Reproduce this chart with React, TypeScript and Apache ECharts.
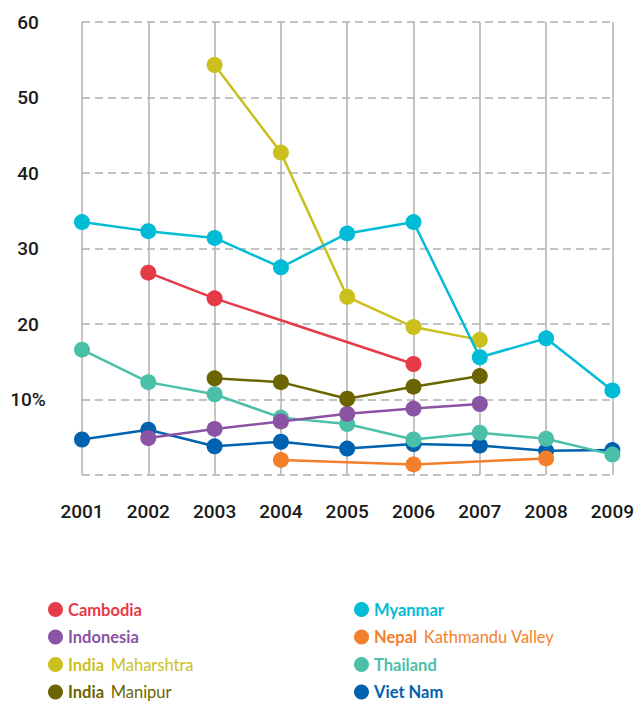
import React, { useEffect, useRef } from "react";
import * as echarts from "echarts";

const years = ["2001", "2002", "2003", "2004", "2005", "2006", "2007", "2008", "2009"];
const yTicks = [0, 10, 20, 30, 40, 50, 60];

const cambodia = [null, 26.8, 23.4, null, null, 14.7, null, null, null];
const indonesia = [null, 4.9, 6.1, 7.1, 8.1, 8.8, 9.4, null, null];
const indiaMaharashtra = [null, null, 54.3, 42.7, 23.6, 19.6, 17.9, null, null];
const indiaManipur = [null, null, 12.8, 12.3, 10.1, 11.7, 13.1, null, null];
const myanmar = [33.5, 32.3, 31.4, 27.5, 32.0, 33.5, 15.6, 18.1, 11.2];
const nepal = [null, null, null, 2.0, null, 1.4, null, 2.2, null];
const thailand = [16.6, 12.3, 10.7, 7.6, 6.75, 4.7, 5.6, 4.8, 2.7];
const vietNam = [4.7, 6.0, 3.8, 4.4, 3.5, 4.1, 3.9, 3.2, 3.3];

const seriesNames = [
  "Cambodia",
  "Indonesia",
  "India Maharshtra",
  "India Manipur",
  "Myanmar",
  "Nepal Kathmandu Valley",
  "Thailand",
  "Viet Nam",
];
const boldParts = ["Cambodia", "Indonesia", "India", "India", "Myanmar", "Nepal", "Thailand", "Viet Nam"];
const subParts = ["", "", "Maharshtra", "Manipur", "", "Kathmandu Valley", "", ""];
const seriesData = [cambodia, indonesia, indiaMaharashtra, indiaManipur, myanmar, nepal, thailand, vietNam];
const colors = ["#e63a47", "#8b53a4", "#cbbf1d", "#6b6400", "#00bcd6", "#f47f2a", "#4cbfa8", "#0061ae"];
const drawOrder = [7, 5, 6, 1, 3, 0, 2, 4];

const axisFont = "Roboto, sans-serif";

export default function App() {
  const ref = useRef<HTMLDivElement>(null);
  useEffect(() => {
    document.body.style.margin = "0";
    if (!ref.current) return;
    const chart = echarts.init(ref.current, null, { renderer: "svg" });
    const rich: Record<string, any> = {};
    seriesNames.forEach((_, i) => {
      rich["b" + i] = { color: colors[i], fontWeight: "bold", fontSize: 16.5, lineHeight: 18, fontFamily: "Lato" };
      rich["r" + i] = { color: colors[i], fontWeight: "normal", fontSize: 16.5, lineHeight: 18, fontFamily: "Lato" };
    });
    const fmt = (name: string) => {
      const i = seriesNames.indexOf(name);
      return subParts[i] ? `{b${i}|${boldParts[i]}}  {r${i}|${subParts[i]}}` : `{b${i}|${boldParts[i]}}`;
    };
    const legendCommon = {
      orient: "vertical",
      icon: "circle",
      itemWidth: 15,
      itemHeight: 15,
      itemGap: 10.5,
      padding: 0,
      selectedMode: false,
      formatter: fmt,
      textStyle: { rich },
      top: 601,
      height: 120,
    };
    chart.setOption({
      animation: false,
      grid: { left: 82, right: 20, top: 22, bottom: 230 },
      legend: [
        { ...legendCommon, left: 48, data: seriesNames.slice(0, 4) },
        { ...legendCommon, left: 354, data: seriesNames.slice(4) },
      ],
      xAxis: {
        type: "category",
        data: years,
        boundaryGap: false,
        axisLine: { show: false },
        axisTick: { show: false },
        axisLabel: {
          margin: 27,
          fontSize: 19,
          fontWeight: 500,
          color: "#1a1a1a",
          fontFamily: axisFont,
        },
        splitLine: { show: true, lineStyle: { color: "#b0b0b0", width: 1.5 } },
      },
      yAxis: {
        type: "value",
        min: 0,
        max: 60,
        interval: 10,
        axisLine: { show: false },
        axisTick: { show: false },
        axisLabel: {
          margin: 54,
          align: "center",
          fontSize: 19,
          fontWeight: 500,
          color: "#1a1a1a",
          fontFamily: axisFont,
          formatter: (v: number) => (v === yTicks[0] ? "" : v === yTicks[1] ? "10%" : String(v)),
        },
        splitLine: { show: true, lineStyle: { color: "#b0b0b0", width: 1.5, type: [8, 5] } },
      },
      series: drawOrder.map((i, k) => ({
        name: seriesNames[i],
        type: "line",
        data: seriesData[i],
        connectNulls: true,
        symbol: "circle",
        symbolSize: 16,
        z: 2 + k,
        itemStyle: { color: colors[i] },
        lineStyle: { color: colors[i], width: 2.5 },
        emphasis: { disabled: true },
      })),
    });
    return () => chart.dispose();
  }, []);
  return <div ref={ref} style={{ width: 637, height: 705 }} />;
}
